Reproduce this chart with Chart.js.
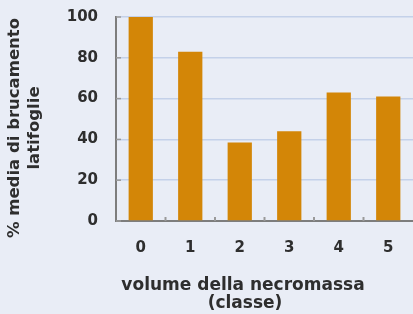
<!DOCTYPE html>
<html lang="it">
<head>
<meta charset="UTF-8">
<title>Brucamento latifoglie</title>
<style>
  body {
    margin: 0;
    padding: 0;
    background-color: #e9edf6;
  }
  .chart-box {
    width: 413px;
    height: 314px;
    position: relative;
  }
</style>
</head>
<body>
<div class="chart-box">
  <canvas id="chart"></canvas>
</div>
<script src="https://cdn.jsdelivr.net/npm/chart.js"></script>
<script>
  // data
  const classes = ['0', '1', '2', '3', '4', '5'];
  const browsing = [100, 83, 38.5, 44, 63, 61];
  const yTicks = [0, 20, 40, 60, 80, 100];

  const yTitle = ['% media di brucamento', 'latifoglie'];
  const xTitle = ['volume della necromassa', '(classe)'];

  const textColor = '#2e2e2e';
  const fontFamily = '"DejaVu Sans", sans-serif';

  // axis titles and the little inner tick marks
  const decor = {
    id: 'decor',
    afterDraw(chart) {
      const ctx = chart.ctx;
      const area = chart.chartArea;
      const x = chart.scales.x;
      const y = chart.scales.y;
      ctx.save();

      // inner ticks on x axis, between categories
      ctx.strokeStyle = '#9a9a9a';
      ctx.lineWidth = 2;
      for (let i = 0; i < classes.length - 1; i++) {
        const px = (x.getPixelForValue(i) + x.getPixelForValue(i + 1)) / 2;
        ctx.beginPath();
        ctx.moveTo(px, area.bottom);
        ctx.lineTo(px, area.bottom - 4);
        ctx.stroke();
      }
      // inner ticks on y axis
      ctx.lineWidth = 1.5;
      yTicks.forEach(v => {
        const py = y.getPixelForValue(v);
        ctx.beginPath();
        ctx.moveTo(area.left, py);
        ctx.lineTo(area.left + 5, py);
        ctx.stroke();
      });

      ctx.fillStyle = textColor;
      ctx.font = 'bold 16.5px ' + fontFamily;
      ctx.textAlign = 'center';
      ctx.textBaseline = 'middle';

      // y title, rotated
      ctx.save();
      ctx.translate(15, 128);
      ctx.rotate(-Math.PI / 2);
      ctx.fillText(yTitle[0], 0, 0);
      ctx.fillText(yTitle[1], 0, 20);
      ctx.restore();

      // x title
      ctx.font = 'bold 17px ' + fontFamily;
      ctx.fillText(xTitle[0], 243, 286);
      ctx.fillText(xTitle[1], 245, 304);

      ctx.restore();
    }
  };

  const ctx = document.getElementById('chart').getContext('2d');
  const chart = new Chart(ctx, {
    type: 'bar',
    data: {
      labels: classes,
      datasets: [{
        data: browsing,
        backgroundColor: '#d38607',
        borderWidth: 0,
        barPercentage: 0.49,
        categoryPercentage: 1
      }]
    },
    options: {
      responsive: true,
      maintainAspectRatio: false,
      animation: false,
      layout: {
        padding: { top: 17, right: 0, bottom: 0, left: 0 }
      },
      plugins: {
        legend: { display: false },
        tooltip: { enabled: false }
      },
      scales: {
        x: {
          grid: { display: true, drawOnChartArea: false, drawTicks: false },
          border: { color: '#7d7d7d', width: 2 },
          ticks: {
            color: textColor,
            padding: 18,
            font: { family: fontFamily, size: 15, weight: 'bold' }
          },
          afterFit(scale) {
            scale.height = 93;
            scale.paddingLeft = 0;
            scale.paddingRight = 0;
          }
        },
        y: {
          min: 0,
          max: 100,
          afterBuildTicks(scale) {
            scale.ticks = yTicks.map(v => ({ value: v }));
          },
          grid: { color: '#c4d1e9', lineWidth: 1.5, drawTicks: false },
          border: { color: '#7d7d7d', width: 2 },
          ticks: {
            color: textColor,
            padding: 18,
            font: { family: fontFamily, size: 15, weight: 'bold' }
          },
          afterFit(scale) {
            scale.width = 116;
            scale.paddingTop = 0;
            scale.paddingBottom = 0;
          }
        }
      }
    },
    plugins: [decor]
  });
</script>
</body>
</html>
